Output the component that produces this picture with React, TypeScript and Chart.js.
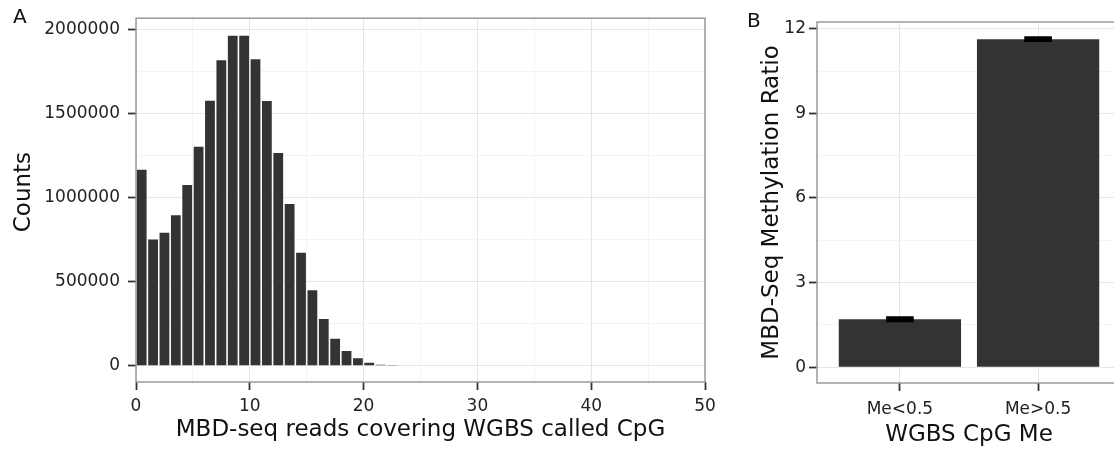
import React, { useEffect, useRef } from 'react';
import { Chart, registerables } from 'chart.js';

Chart.register(...registerables);

// ---------- Panel A data: histogram of MBD-seq reads ----------
const binStarts = [0, 1, 2, 3, 4, 5, 6, 7, 8, 9, 10, 11, 12, 13, 14, 15, 16, 17, 18, 19, 20, 21, 22];
const counts = [1165000, 750000, 790000, 894000, 1074000, 1302000, 1575000, 1816000, 1962000, 1962000, 1822000, 1574000, 1265000, 962000, 672000, 448000, 278000, 160000, 88000, 44000, 18000, 6000, 1500];
const countTicks = [0, 500000, 1000000, 1500000, 2000000];
const readTicks = [0, 10, 20, 30, 40, 50];

// ---------- Panel B data: methylation ratio ----------
const meCategories = ['Me<0.5', 'Me>0.5'];
const ratioMeans = [1.7, 11.63];
const ratioErrLow = [1.65, 11.58];
const ratioErrHigh = [1.752, 11.682];
const ratioTicks = [0, 3, 6, 9, 12];

const FONT = 'DejaVu Sans';
const BAR = '#333333';
const GRID_MAJOR = '#e6e6e6';
const GRID_MINOR = '#f4f4f4';
const BORDER = '#9a9a9a';
const TICK = '#333333';
const LABEL = '#222222';

const withMinors = (majors: number[]) => {
  const out: number[] = [];
  majors.forEach((v, i) => {
    out.push(v);
    if (i < majors.length - 1) out.push((v + majors[i + 1]) / 2);
  });
  return out;
};

const panelBorder = {
  id: 'panelBorder',
  afterDatasetsDraw(chart: any) {
    const { ctx, chartArea: a } = chart;
    ctx.save();
    ctx.strokeStyle = BORDER;
    ctx.lineWidth = 1.5;
    ctx.strokeRect(a.left, a.top, a.right - a.left, a.bottom - a.top);
    ctx.restore();
  },
};

const panelLetter = (letter: string, x: number, y: number) => ({
  id: 'panelLetter' + letter,
  afterDraw(chart: any) {
    const { ctx } = chart;
    ctx.save();
    ctx.fillStyle = '#111';
    ctx.font = `20px "${FONT}"`;
    ctx.textBaseline = 'alphabetic';
    ctx.textAlign = 'left';
    ctx.fillText(letter, x, y);
    ctx.restore();
  },
});

// y-axis title of panel A, drawn slightly above the panel centre as in the figure
const countsTitle = {
  id: 'countsTitle',
  afterDraw(chart: any) {
    const { ctx, chartArea: a } = chart;
    ctx.save();
    ctx.fillStyle = '#111';
    ctx.font = `23px "${FONT}"`;
    ctx.textAlign = 'center';
    ctx.textBaseline = 'middle';
    ctx.translate(24, (a.top + a.bottom) / 2 - 8);
    ctx.rotate(-Math.PI / 2);
    ctx.fillText('Counts', 0, 0);
    ctx.restore();
  },
};

const errorBars = {
  id: 'errorBars',
  afterDatasetsDraw(chart: any) {
    const { ctx } = chart;
    const xs = chart.scales.x;
    const ys = chart.scales.y;
    const half = Math.abs(xs.getPixelForValue(0.1) - xs.getPixelForValue(0));
    ctx.save();
    ctx.strokeStyle = '#000';
    ctx.lineWidth = 3;
    ratioMeans.forEach((_, i) => {
      const x = xs.getPixelForValue(i + 1);
      const yl = ys.getPixelForValue(ratioErrLow[i]);
      const yh = ys.getPixelForValue(ratioErrHigh[i]);
      ctx.beginPath();
      ctx.moveTo(x, yl);
      ctx.lineTo(x, yh);
      ctx.moveTo(x - half, yh);
      ctx.lineTo(x + half, yh);
      ctx.moveTo(x - half, yl);
      ctx.lineTo(x + half, yl);
      ctx.stroke();
    });
    ctx.restore();
  },
};

function makeGrid(majors: number[], minorGrid: boolean) {
  return {
    offset: false,
    color: (c: any) => (majors.includes(c.tick?.value) ? GRID_MAJOR : minorGrid ? GRID_MINOR : 'rgba(0,0,0,0)'),
    tickColor: (c: any) => (majors.includes(c.tick?.value) ? TICK : 'rgba(0,0,0,0)'),
    tickLength: 8,
    tickWidth: 1.8,
    lineWidth: 1,
  };
}

export default function App() {
  const refA = useRef<HTMLCanvasElement>(null);
  const refB = useRef<HTMLCanvasElement>(null);

  useEffect(() => {
    const chartA = new Chart(refA.current!, {
      type: 'bar',
      data: {
        datasets: [
          {
            data: binStarts.map((s, i) => ({ x: s + 0.5, y: counts[i] })),
            backgroundColor: BAR,
            borderWidth: 0,
            barPercentage: 0.86,
            categoryPercentage: 1,
          },
        ],
      },
      options: {
        responsive: false,
        animation: false,
        devicePixelRatio: 1,
        layout: { padding: { top: 18, right: 25, left: 0, bottom: 0 } },
        plugins: { legend: { display: false }, tooltip: { enabled: false } },
        scales: {
          x: {
            type: 'linear',
            min: 0,
            max: 50,
            offset: false,
            afterBuildTicks: (s: any) => {
              s.ticks = withMinors(readTicks).map((v) => ({ value: v }));
            },
            afterFit: (s: any) => {
              s.height = 71;
            },
            grid: makeGrid(readTicks, true),
            border: { display: false },
            ticks: {
              autoSkip: false,
              maxRotation: 0,
              padding: 6,
              color: LABEL,
              font: { family: FONT, size: 17 },
              callback: (v: any) => (readTicks.includes(v) ? String(v) : ''),
            },
            title: {
              display: true,
              text: 'MBD-seq reads covering WGBS called CpG',
              color: '#111',
              font: { family: FONT, size: 23 },
              padding: { top: 0, bottom: 9 },
            },
          },
          y: {
            type: 'linear',
            min: -97000,
            max: 2066000,
            afterBuildTicks: (s: any) => {
              s.ticks = withMinors(countTicks).map((v) => ({ value: v }));
            },
            afterFit: (s: any) => {
              s.width = 136;
            },
            grid: makeGrid(countTicks, true),
            border: { display: false },
            ticks: {
              autoSkip: false,
              padding: 8,
              color: LABEL,
              font: { family: FONT, size: 17 },
              callback: (v: any) => (countTicks.includes(v) ? String(v) : ''),
            },
            title: { display: false },
          },
        },
      },
      plugins: [panelBorder, countsTitle, panelLetter('A', 13, 23)],
    } as any);

    const chartB = new Chart(refB.current!, {
      type: 'bar',
      data: {
        datasets: [
          {
            data: ratioMeans.map((m, i) => ({ x: i + 1, y: m })),
            backgroundColor: BAR,
            borderWidth: 0,
            barPercentage: 1,
            categoryPercentage: 0.885,
          },
        ],
      },
      options: {
        responsive: false,
        animation: false,
        devicePixelRatio: 1,
        layout: { padding: { top: 22, right: 9, left: 0, bottom: 0 } },
        plugins: { legend: { display: false }, tooltip: { enabled: false } },
        scales: {
          x: {
            type: 'linear',
            min: 0.4,
            max: 2.6,
            offset: false,
            afterBuildTicks: (s: any) => {
              s.ticks = meCategories.map((_, i) => ({ value: i + 1 }));
            },
            afterFit: (s: any) => {
              s.height = 70;
            },
            grid: makeGrid([1, 2], false),
            border: { display: false },
            ticks: {
              autoSkip: false,
              maxRotation: 0,
              padding: 8,
              color: LABEL,
              font: { family: FONT, size: 17 },
              callback: (v: any) => meCategories[v - 1] ?? '',
            },
            title: {
              display: true,
              text: 'WGBS CpG Me',
              color: '#111',
              font: { family: FONT, size: 23 },
              padding: { top: 0, bottom: 4 },
            },
          },
          y: {
            type: 'linear',
            min: -0.556,
            max: 12.237,
            afterBuildTicks: (s: any) => {
              s.ticks = withMinors(ratioTicks).map((v) => ({ value: v }));
            },
            afterFit: (s: any) => {
              s.width = 87;
            },
            grid: makeGrid(ratioTicks, true),
            border: { display: false },
            ticks: {
              autoSkip: false,
              padding: 3,
              color: LABEL,
              font: { family: FONT, size: 17 },
              callback: (v: any) => (ratioTicks.includes(v) ? String(v) : ''),
            },
            title: {
              display: true,
              text: 'MBD-Seq Methylation Ratio',
              color: '#111',
              font: { family: FONT, size: 23 },
              padding: { top: 28, bottom: 0 },
            },
          },
        },
      },
      plugins: [panelBorder, errorBars, panelLetter('B', 17, 27)],
    } as any);

    return () => {
      chartA.destroy();
      chartB.destroy();
    };
  }, []);

  return (
    <div
      style={{
        position: 'fixed',
        left: 0,
        top: 0,
        width: 1114,
        height: 453,
        overflow: 'hidden',
        background: '#fff',
      }}
    >
      <canvas ref={refA} width={730} height={453} style={{ position: 'absolute', left: 0, top: 0, width: 730, height: 453 }} />
      <canvas ref={refB} width={400} height={453} style={{ position: 'absolute', left: 730, top: 0, width: 400, height: 453 }} />
    </div>
  );
}
